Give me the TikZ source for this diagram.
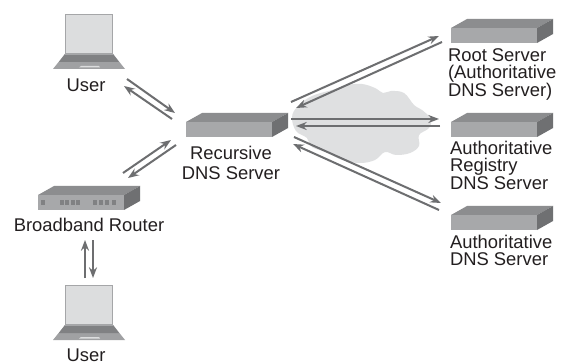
\documentclass[tikz,border=0pt]{standalone}
\usepackage{fontspec}
\setmainfont{Liberation Sans}
\usetikzlibrary{arrows.meta}
\definecolor{txt}{HTML}{231F20}
\definecolor{front}{HTML}{A7A8AA}
\definecolor{topc}{HTML}{8C8D8F}
\definecolor{sidec}{HTML}{6F7072}
\definecolor{arrowc}{HTML}{6D6E70}
\definecolor{screenc}{HTML}{DCDDDE}
\definecolor{framec}{HTML}{A5A6A8}
\definecolor{basec}{HTML}{A0A1A3}
\definecolor{hingec}{HTML}{808183}
\definecolor{cloudc}{HTML}{DFE0E1}
\definecolor{portc}{HTML}{808183}
\tikzset{
  x=0.75pt,y=-0.75pt,
  lbl/.style={font=\fontsize{13.8}{13.1}\selectfont,text=txt,inner sep=0pt,outer sep=0pt},
  lblc/.style={lbl,align=center},
  lbll/.style={lbl,align=left,anchor=north west},
  link/.style={draw=arrowc,line width=1.5pt,-{Stealth[length=8pt,width=6pt]}},
  server/.pic={
    \fill[topc] (0,9) -- (16,0) -- (102,0) -- (86,9) -- cycle;
    \fill[sidec] (86,9) -- (102,0) -- (102,15) -- (86,24) -- cycle;
    \fill[front] (0,9) rectangle (86,24);
  },
  laptop/.pic={
    \fill[basec] (12,40) -- (60,40) -- (72,55) -- (0,55) -- cycle;
    \fill[hingec] (12,40) -- (60,40) -- (66,48) -- (6,48) -- cycle;
    \fill[screenc,draw=framec,line width=0.8pt] (12.5,0.5) rectangle (59.5,40);
    \fill[screenc] (28,52) -- (46,52) -- (47,53.5) -- (26,53.5) -- cycle;
  }
}
\begin{document}
\begin{tikzpicture}
\useasboundingbox (0,0) rectangle (563,363);
\fill[white] (0,0) rectangle (563,363);
% cloud
\fill[cloudc] plot[smooth cycle,tension=0.62] coordinates {
 (292,117) (298,106) (312,96) (332,90) (348,85) (362,84) (375,88) (383,93)
 (391,91) (404,93) (414,105) (422,110) (431,119) (429,128) (419,135)
 (419,146) (410,153) (396,155) (385,152) (375,160) (360,163) (342,160) (328,153)
 (312,147) (307,138) (296,131)};
% devices
\pic at (53,14) {laptop};
\pic at (53,285) {laptop};
\pic at (186,113) {server};
\pic at (451,19) {server};
\pic at (451,113) {server};
\pic at (451,206) {server};
% router
\pic at (38,186) {server};
\foreach \px in {41,59.5,65,70.5,76,92.5,99,105,112}
  \fill[portc] (\px,200) rectangle ++(4.4,5);
% labels
\node[lbl] (user1) at (86,85) {User};
\node[lbl] (user2) at (86,355) {User};
\node[lblc,font=\fontsize{13.8}{14.6}\selectfont] (recursive) at (231,163) {Recursive\\DNS Server};
\node[lbl] (router) at (89,225) {Broadband Router};
\node[lbll] (root) at (448,48.5) {Root Server\\(Authoritative\\DNS Server)};
\node[lbll] (registry) at (450,141) {Authoritative\\Registry\\DNS Server};
\node[lbll] (auth) at (450,235) {Authoritative\\DNS Server};
% connector ends
\coordinate (ua) at (127,79); \coordinate (ub) at (175,113);
\coordinate (uc) at (172,119); \coordinate (ud) at (124,86);
\coordinate (ra) at (123,173); \coordinate (rb) at (171,140);
\coordinate (rc) at (176,145); \coordinate (rd) at (128,178);
\coordinate (va) at (85,278); \coordinate (vb) at (85,240);
\coordinate (vc) at (93,240); \coordinate (vd) at (93,278);
\coordinate (sa) at (291,102); \coordinate (sb) at (439,36);
\coordinate (sc) at (442,42); \coordinate (sd) at (296,108);
\coordinate (ma) at (291,119); \coordinate (mb) at (439,119);
\coordinate (mc) at (440,126); \coordinate (md) at (296,126);
\coordinate (ta) at (294,137); \coordinate (tb) at (441,203);
\coordinate (tc) at (439,210); \coordinate (td) at (293,144);
\foreach \a/\b in {ua/ub,uc/ud,ra/rb,rc/rd,va/vb,vc/vd,sa/sb,sc/sd,ma/mb,mc/md,ta/tb,tc/td}
  \draw[link] (\a) -- (\b);
\end{tikzpicture}
\end{document}
